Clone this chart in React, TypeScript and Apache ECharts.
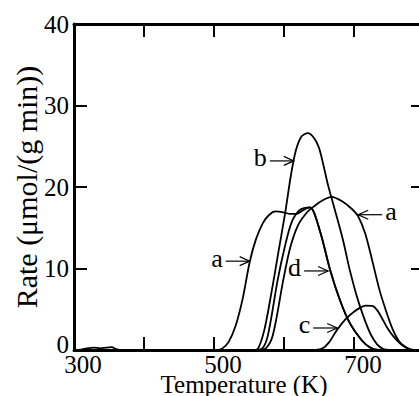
import React, { useEffect, useRef } from 'react';
import * as echarts from 'echarts';

// Temperature (K), Rate (µmol/(g min)) pairs
const curveA1: [number, number][] = [
  [300, 0], [310, 0.05], [318, 0.2], [328, 0.3], [338, 0.2], [346, 0.3], [354, 0.35], [360, 0.1], [366, 0],
  [505, 0], [512, 0.2], [521, 1.0], [531, 3.0], [541, 6.3], [551, 10.8], [560, 13.6], [570, 15.6],
  [579, 16.6], [588, 17.0], [599, 16.9], [609, 16.7], [618, 16.7], [628, 17.2], [637, 17.5],
  [651, 14.7], [666, 9.8], [680, 6.1], [694, 3.3], [711, 1.2], [723, 0.3], [735, 0], [800, 0],
];
const curveB: [number, number][] = [
  [300, 0], [555, 0], [563, 0.2], [572, 2.5], [582, 7.0], [592, 12.0], [602, 17.0], [610, 21.5],
  [617, 24.5], [625, 26.2], [634, 26.6], [643, 26.0], [650, 24.8], [656, 22.8], [663, 20.2],
  [672, 17.4], [684, 13.6], [694, 9.8], [704, 6.6], [714, 4.0], [724, 1.9], [733, 0.7], [742, 0.1],
  [750, 0], [800, 0],
];
const curveA2: [number, number][] = [
  [300, 0], [562, 0], [574, 0.2], [584, 1.8], [599, 8.6], [609, 12.6], [620, 15.3], [633, 16.9],
  [644, 17.7], [656, 18.4], [668, 18.8], [684, 18.2], [697, 17.3], [706, 16.4], [716, 14.3],
  [726, 11.0], [736, 7.5], [745, 5.0], [755, 2.6], [765, 1.0], [775, 0.3], [785, 0], [800, 0],
];
const curveD: [number, number][] = [
  [300, 0], [558, 0], [569, 0.2], [577, 1.8], [591, 8.6], [601, 12.6], [611, 15.7], [623, 17.2],
  [637, 17.5], [651, 14.7], [666, 9.8], [680, 6.1], [694, 3.3], [711, 1.2], [723, 0.3], [735, 0],
  [800, 0],
];
const curveC: [number, number][] = [
  [300, 0], [640, 0], [655, 0.2], [664, 0.9], [676, 2.5], [688, 3.8], [700, 4.7], [709, 5.2],
  [716, 5.45], [726, 5.4], [733, 4.9], [740, 3.9], [747, 2.8], [756, 1.7], [766, 0.8], [776, 0.2],
  [785, 0], [800, 0],
];

const xLabelsShown = [300, 500, 700];

// annotation arrows: label, arrow tip (T, rate), direction of arrow
const annoLabels = ['a', 'b', 'a', 'd', 'c'];
const annoTipT = [551, 614, 706, 663, 676];
const annoTipV = [10.9, 23.2, 16.6, 9.7, 2.7];
const annoDir = [1, 1, -1, 1, 1];

export default function App() {
  const ref = useRef<HTMLDivElement>(null);
  useEffect(() => {
    const chart = echarts.init(ref.current!, null, { renderer: 'svg' });
    const font = 'Liberation Serif';
    const ln = (name: string, data: [number, number][]) => ({
      type: 'line', name, data, smooth: 0.3, symbol: 'none', showSymbol: false,
      lineStyle: { color: '#000', width: 1.8 }, itemStyle: { color: '#000' }, z: 3,
    });
    const tick = { inside: true, length: 13, lineStyle: { color: '#000', width: 2 } };
    const axLine = { onZero: false, lineStyle: { color: '#000', width: 3 } };
    chart.setOption({
      animation: false,
      backgroundColor: '#fff',
      grid: { left: 74, top: 24, right: 26, bottom: 46, containLabel: false, outerBoundsMode: 'none' },
      xAxis: [
        {
          type: 'value', min: 300, max: 800, interval: 100, position: 'bottom',
          axisLine: axLine, axisTick: tick, splitLine: { show: false },
          axisLabel: {
            color: '#000', fontFamily: font, fontSize: 25, margin: 4, lineHeight: 20, padding: [0, 0, 0, 18],
            formatter: (v: number) => (xLabelsShown.includes(v) ? String(v) : ''),
          },
          name: 'Temperature (K)', nameLocation: 'middle', nameGap: 25, nameMoveOverlap: false,
          nameTextStyle: { color: '#000', fontFamily: font, fontSize: 25, lineHeight: 19, padding: [0, 10, 0, 0] },
        },
        {
          type: 'value', min: 300, max: 800, interval: 100, position: 'top',
          axisLine: axLine, axisTick: tick, splitLine: { show: false }, axisLabel: { show: false },
        },
      ],
      yAxis: [
        {
          type: 'value', min: 0, max: 40, interval: 10, position: 'left',
          axisLine: axLine, axisTick: tick, splitLine: { show: false },
          axisLabel: {
            color: '#000', fontFamily: font, fontSize: 25, margin: 5,
            formatter: (v: number) => (v === 0 ? '{z|0}' : String(v)),
            rich: { z: { fontFamily: font, fontSize: 25, color: '#000', padding: [0, 0, 12, 0] } },
          },
          name: 'Rate (\u03bcmol/(g min))', nameLocation: 'middle', nameGap: 33, nameRotate: 90,
          nameMoveOverlap: false,
          nameTextStyle: { color: '#000', fontFamily: font, fontSize: 30 },
        },
        {
          type: 'value', min: 0, max: 40, interval: 10, position: 'right',
          axisLine: axLine, axisTick: tick, splitLine: { show: false }, axisLabel: { show: false },
        },
      ],
      series: [
        ln('a1', curveA1), ln('b', curveB), ln('a2', curveA2), ln('d', curveD), ln('c', curveC),
      ],
    });
    const g: any[] = [];
    annoLabels.forEach((lab, i) => {
      const p = chart.convertToPixel({ gridIndex: 0 }, [annoTipT[i], annoTipV[i]]) as number[];
      const tx = p[0], ty = p[1];
      const d = annoDir[i];
      const tail = tx - d * 24;
      g.push({
        type: 'line', shape: { x1: tail, y1: ty, x2: tx, y2: ty },
        style: { stroke: '#000', lineWidth: 1.2 }, z: 10,
      });
      g.push({
        type: 'polyline', shape: { points: [[tx - d * 10, ty - 4.5], [tx, ty], [tx - d * 10, ty + 4.5]] },
        style: { stroke: '#000', fill: 'none', lineWidth: 1.2 }, z: 10,
      });
      g.push({
        type: 'text', x: tail - d * 3, y: ty - 3, z: 10,
        style: {
          text: lab, fontSize: 26, fontFamily: font, fill: '#000',
          textAlign: d > 0 ? 'right' : 'left', textVerticalAlign: 'middle',
        },
      });
    });
    chart.setOption({ graphic: g });
    return () => chart.dispose();
  }, []);
  return (
    <div style={{ position: 'fixed', left: 0, top: 0, width: 419, height: 396, overflow: 'hidden', background: '#fff' }}>
      <div ref={ref} style={{ width: 450, height: 396 }} />
    </div>
  );
}
